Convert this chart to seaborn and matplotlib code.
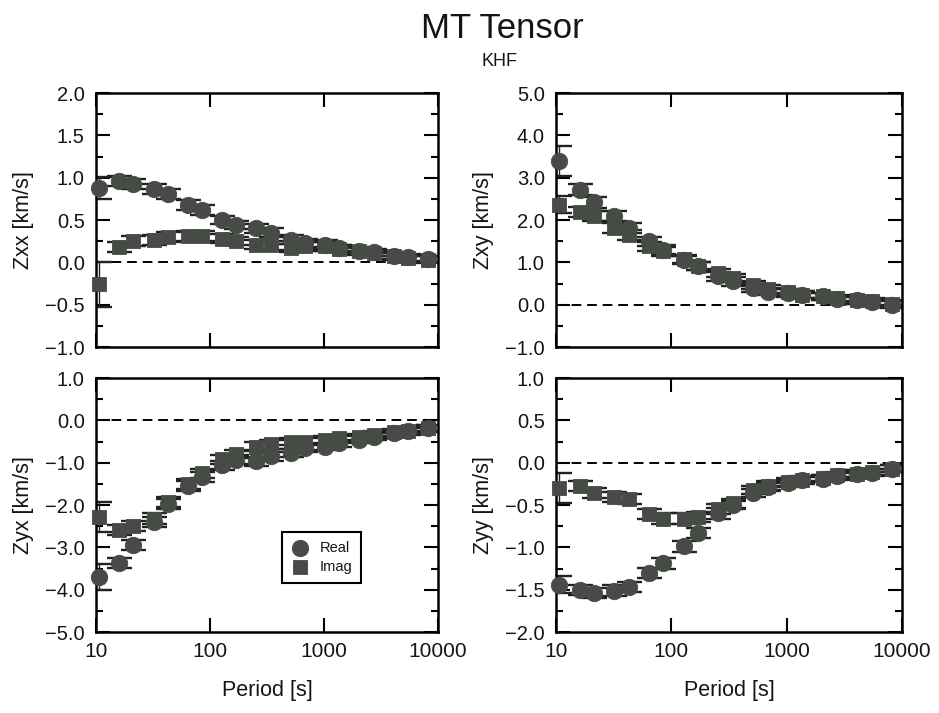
import matplotlib
matplotlib.use("Agg")
import matplotlib.pyplot as plt
import seaborn as sns
from matplotlib.ticker import MultipleLocator, FixedLocator, NullLocator, FuncFormatter

# ---------------- data ----------------
periods = [10.67, 16, 21.33, 32, 42.67, 64, 85.33, 128, 170.67, 256, 341.33,
           512, 682.67, 1024, 1365.33, 2048, 2730.67, 4096, 5461.33, 8192]

zxx_real = [0.88, 0.96, 0.93, 0.87, 0.81, 0.68, 0.62, 0.50, 0.44, 0.40, 0.35,
            0.27, 0.23, 0.21, 0.17, 0.14, 0.12, 0.08, 0.06, 0.04]
zxx_imag = [-0.26, 0.18, 0.25, 0.26, 0.30, 0.31, 0.31, 0.28, 0.25, 0.21, 0.20,
            0.17, 0.19, 0.19, 0.16, 0.13, 0.11, 0.07, 0.05, 0.03]
zxx_real_err = [0.13, 0.06, 0.06, 0.06, 0.06, 0.06, 0.06, 0.05, 0.05, 0.05, 0.05,
                0.05, 0.05, 0.05, 0.04, 0.04, 0.04, 0.04, 0.04, 0.04]
zxx_imag_err = [0.27, 0.06, 0.06, 0.06, 0.06, 0.06, 0.06, 0.05, 0.05, 0.05, 0.05,
                0.05, 0.05, 0.05, 0.04, 0.04, 0.04, 0.04, 0.04, 0.04]

zxy_real = [3.39, 2.72, 2.42, 2.10, 1.81, 1.50, 1.30, 1.06, 0.91, 0.67, 0.55,
            0.39, 0.31, 0.28, 0.24, 0.20, 0.13, 0.10, 0.06, 0.00]
zxy_imag = [2.36, 2.18, 2.09, 1.81, 1.65, 1.38, 1.26, 1.08, 0.92, 0.75, 0.63,
            0.47, 0.37, 0.29, 0.24, 0.20, 0.16, 0.10, 0.08, 0.02]
zxy_real_err = [0.35, 0.14, 0.13, 0.12, 0.12, 0.11, 0.11, 0.10, 0.10, 0.10, 0.10,
                0.09, 0.09, 0.09, 0.08, 0.08, 0.08, 0.08, 0.08, 0.08]
zxy_imag_err = [0.20, 0.12, 0.12, 0.12, 0.12, 0.11, 0.11, 0.10, 0.10, 0.10, 0.10,
                0.09, 0.09, 0.09, 0.08, 0.08, 0.08, 0.08, 0.08, 0.08]

zyx_real = [-3.70, -3.37, -2.95, -2.40, -1.98, -1.56, -1.34, -1.06, -0.93, -0.97, -0.85,
            -0.77, -0.65, -0.62, -0.54, -0.46, -0.39, -0.30, -0.26, -0.18]
zyx_imag = [-2.28, -2.60, -2.50, -2.32, -1.93, -1.50, -1.25, -0.92, -0.80, -0.62, -0.57,
            -0.50, -0.50, -0.46, -0.42, -0.40, -0.34, -0.28, -0.24, -0.19]
zyx_real_err = [0.30, 0.12, 0.12, 0.12, 0.12, 0.12, 0.11, 0.11, 0.10, 0.10, 0.10,
                0.09, 0.09, 0.09, 0.08, 0.08, 0.08, 0.08, 0.08, 0.08]
zyx_imag_err = [0.35, 0.12, 0.12, 0.12, 0.12, 0.12, 0.11, 0.11, 0.10, 0.10, 0.10,
                0.09, 0.09, 0.09, 0.08, 0.08, 0.08, 0.08, 0.08, 0.08]

zyy_real = [-1.44, -1.50, -1.54, -1.51, -1.47, -1.30, -1.19, -0.99, -0.83, -0.60, -0.50,
            -0.36, -0.29, -0.24, -0.21, -0.19, -0.16, -0.13, -0.12, -0.07]
zyy_imag = [-0.30, -0.28, -0.36, -0.41, -0.43, -0.61, -0.66, -0.66, -0.64, -0.55, -0.48,
            -0.32, -0.27, -0.23, -0.20, -0.18, -0.15, -0.13, -0.11, -0.07]
zyy_real_err = [0.10, 0.06, 0.06, 0.06, 0.06, 0.06, 0.06, 0.06, 0.06, 0.06, 0.05,
                0.05, 0.05, 0.05, 0.04, 0.04, 0.04, 0.04, 0.04, 0.04]
zyy_imag_err = [0.18, 0.06, 0.06, 0.06, 0.06, 0.06, 0.06, 0.06, 0.06, 0.06, 0.05,
                0.05, 0.05, 0.05, 0.04, 0.04, 0.04, 0.04, 0.04, 0.04]

x_ticks = [10, 100, 1000, 10000]
x_tick_labels = ["10", "100", "1000", "10000"]

# ---------------- style ----------------
sns.set_theme(style="ticks")
plt.rcParams["font.family"] = ["Liberation Sans", "DejaVu Sans"]
plt.rcParams["axes.unicode_minus"] = True

MK = "#474b46"
ECOL = "#222222"
TXT = "#151515"

fig = plt.figure(figsize=(9.39, 7.13), dpi=100)

panels = [
    dict(ylabel="Zxx [km/s]", real=zxx_real, imag=zxx_imag, er=zxx_real_err, ei=zxx_imag_err,
         ylim=(-1.0, 2.0), major=0.5, minor=0.25, pos=[0.1022, 0.5133, 0.3642, 0.3562], bottom=False),
    dict(ylabel="Zxy [km/s]", real=zxy_real, imag=zxy_imag, er=zxy_real_err, ei=zxy_imag_err,
         ylim=(-1.0, 5.0), major=1.0, minor=0.5, pos=[0.5921, 0.5133, 0.3685, 0.3562], bottom=False),
    dict(ylabel="Zyx [km/s]", real=zyx_real, imag=zyx_imag, er=zyx_real_err, ei=zyx_imag_err,
         ylim=(-5.0, 1.0), major=1.0, minor=0.5, pos=[0.1022, 0.1136, 0.3642, 0.3562], bottom=True),
    dict(ylabel="Zyy [km/s]", real=zyy_real, imag=zyy_imag, er=zyy_real_err, ei=zyy_imag_err,
         ylim=(-2.0, 1.0), major=0.5, minor=0.25, pos=[0.5921, 0.1136, 0.3685, 0.3562], bottom=True),
]

fmt = FuncFormatter(lambda v, p: ("%.1f" % v).replace("-", "\u2212"))

for i, p in enumerate(panels):
    ax = fig.add_axes(p["pos"])
    ax.set_xscale("log")
    ax.axhline(0, color="black", ls=(0, (5, 3)), lw=1.4, zorder=1)
    ax.errorbar(periods, p["imag"], yerr=p["ei"], fmt="none", ecolor=ECOL,
                elinewidth=1.0, capsize=9, capthick=1.7, zorder=2)
    ax.errorbar(periods, p["real"], yerr=p["er"], fmt="none", ecolor=ECOL,
                elinewidth=1.0, capsize=9, capthick=1.7, zorder=2)
    sns.scatterplot(x=periods, y=p["imag"], marker="s", s=100, color=MK, edgecolor=MK,
                    linewidth=0.6, ax=ax, zorder=3, clip_on=False,
                    label="Imag" if i == 2 else None, legend=False)
    sns.scatterplot(x=periods, y=p["real"], marker="o", s=140, color=MK, edgecolor=MK,
                    linewidth=0.6, ax=ax, zorder=4, clip_on=False,
                    label="Real" if i == 2 else None, legend=False)
    ax.set_xlim(10, 10000)
    ax.set_ylim(*p["ylim"])
    ax.xaxis.set_major_locator(FixedLocator(x_ticks))
    ax.xaxis.set_minor_locator(NullLocator())
    ax.set_xticks(x_ticks)
    ax.set_xticklabels(x_tick_labels)
    ax.yaxis.set_major_locator(MultipleLocator(p["major"]))
    ax.yaxis.set_minor_locator(MultipleLocator(p["minor"]))
    ax.yaxis.set_major_formatter(fmt)
    ax.tick_params(which="both", direction="in", top=True, right=True, width=1.5, colors="black",
                   labelcolor=TXT)
    ax.tick_params(which="major", length=10)
    ax.tick_params(which="minor", length=5)
    ax.tick_params(axis="y", labelsize=14.5, pad=8)
    ax.tick_params(axis="x", labelsize=15, pad=7, labelbottom=p["bottom"])
    for s in ax.spines.values():
        s.set_linewidth(1.8)
        s.set_color("black")
    ax.set_ylabel(p["ylabel"], fontsize=15.5, labelpad=8, color=TXT)
    if p["bottom"]:
        ax.set_xlabel("Period [s]", fontsize=15.5, labelpad=14, color=TXT)
    else:
        ax.set_xlabel("")
    ax.grid(False)
    if i == 2:
        h, l = ax.get_legend_handles_labels()
        order = [l.index("Real"), l.index("Imag")]
        leg = ax.legend([h[k] for k in order], [l[k] for k in order], loc="lower left",
                        bbox_to_anchor=(0.544, 0.193), borderaxespad=0, fontsize=10.5,
                        frameon=True, fancybox=False, framealpha=1, edgecolor="black",
                        handletextpad=0.8, borderpad=0.6, labelspacing=0.35, handlelength=1.2)
        leg.get_frame().set_linewidth(1.5)
        for t in leg.get_texts():
            t.set_color(TXT)

fig.text(0.535, 0.960, "MT Tensor", ha="center", va="center", fontsize=25, color=TXT)
fig.text(0.532, 0.914, "KHF", ha="center", va="center", fontsize=13, color=TXT)

fig.savefig("out.png", dpi=100, facecolor="white")
